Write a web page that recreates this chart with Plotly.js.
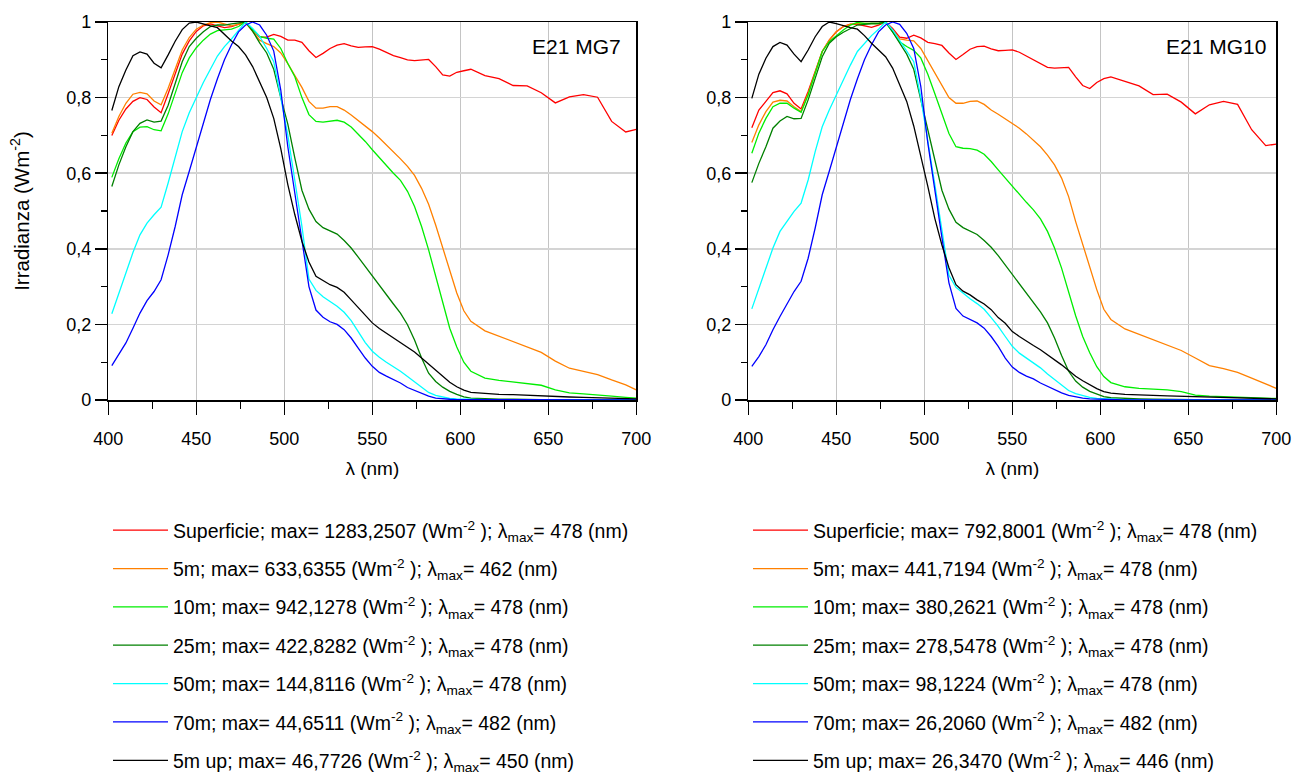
<!DOCTYPE html>
<html><head><meta charset="utf-8">
<script src="https://cdn.plot.ly/plotly-3.0.1.min.js"></script>
<style>html,body{margin:0;padding:0;background:#fff;}#chart{width:1295px;height:775px;}</style>
</head><body><div id="chart"></div>
<script>
// Wavelength (nm)
const wavelength = [402,406,410,414,418,422,426,430,434,438,442,446,450,454,458,462,466,470,474,478,482,486,490,494,498,502,506,510,514,518,522,526,530,534,538,542,546,550,554,558,562,566,570,574,578,582,586,590,594,598,602,606,614,622,630,638,646,654,662,670,678,686,694,700];

// ---- E21 MG7 (normalised irradiance) ----
const mg7_superficie = [0.70,0.74,0.77,0.79,0.80,0.795,0.775,0.76,0.81,0.865,0.915,0.95,0.975,0.99,0.995,0.99,0.985,0.988,0.993,1.0,0.98,0.96,0.96,0.967,0.962,0.952,0.952,0.946,0.924,0.906,0.917,0.930,0.939,0.943,0.937,0.933,0.934,0.935,0.928,0.920,0.911,0.906,0.900,0.898,0.900,0.901,0.882,0.860,0.857,0.867,0.871,0.875,0.858,0.850,0.832,0.831,0.813,0.786,0.802,0.808,0.801,0.737,0.709,0.716];
const mg7_5m = [0.706,0.75,0.785,0.809,0.814,0.81,0.791,0.781,0.825,0.878,0.926,0.959,0.981,0.992,0.998,1.0,0.996,0.99,0.994,0.998,0.975,0.952,0.943,0.935,0.918,0.89,0.858,0.827,0.79,0.772,0.772,0.776,0.776,0.767,0.754,0.740,0.725,0.710,0.693,0.675,0.657,0.638,0.618,0.594,0.560,0.518,0.463,0.402,0.342,0.283,0.236,0.208,0.183,0.169,0.155,0.142,0.126,0.103,0.084,0.076,0.067,0.053,0.040,0.027];
const mg7_10m = [0.589,0.638,0.68,0.71,0.722,0.723,0.715,0.712,0.757,0.81,0.866,0.905,0.932,0.952,0.968,0.977,0.979,0.981,0.988,1.0,0.98,0.962,0.957,0.955,0.93,0.89,0.855,0.80,0.755,0.737,0.735,0.737,0.740,0.735,0.722,0.703,0.684,0.662,0.641,0.620,0.600,0.581,0.552,0.512,0.459,0.397,0.327,0.254,0.19,0.14,0.10,0.076,0.058,0.052,0.048,0.045,0.039,0.027,0.019,0.016,0.014,0.010,0.007,0.005];
const mg7_25m = [0.565,0.622,0.67,0.71,0.732,0.741,0.735,0.738,0.78,0.838,0.895,0.935,0.957,0.974,0.988,0.992,0.992,0.995,0.997,1.0,0.976,0.945,0.918,0.875,0.80,0.73,0.64,0.555,0.505,0.472,0.456,0.448,0.439,0.422,0.402,0.378,0.353,0.327,0.301,0.277,0.254,0.230,0.199,0.159,0.111,0.071,0.049,0.034,0.023,0.015,0.008,0.005,0.003,0.002,0.002,0.001,0.001,0.001,0.001,0,0,0,0,0];
const mg7_50m = [0.228,0.283,0.335,0.39,0.437,0.468,0.49,0.51,0.574,0.645,0.71,0.76,0.80,0.84,0.875,0.91,0.935,0.955,0.978,1.0,0.983,0.962,0.93,0.895,0.80,0.70,0.58,0.46,0.32,0.29,0.273,0.261,0.248,0.232,0.210,0.181,0.152,0.129,0.113,0.100,0.089,0.076,0.062,0.048,0.032,0.020,0.012,0.007,0.004,0.003,0.002,0.001,0.001,0,0,0,0,0,0,0,0,0,0,0];
const mg7_70m = [0.091,0.12,0.151,0.19,0.23,0.263,0.287,0.318,0.384,0.459,0.543,0.605,0.67,0.735,0.795,0.85,0.90,0.94,0.974,0.992,1.0,0.992,0.965,0.923,0.82,0.67,0.55,0.43,0.30,0.238,0.219,0.207,0.2,0.186,0.164,0.137,0.111,0.089,0.073,0.063,0.054,0.045,0.033,0.025,0.016,0.010,0.005,0.003,0.002,0.001,0.001,0,0,0,0,0,0,0,0,0,0,0,0,0];
const mg7_5mup = [0.766,0.829,0.873,0.911,0.921,0.915,0.891,0.879,0.913,0.949,0.98,0.997,1.0,0.994,0.99,0.985,0.967,0.95,0.935,0.913,0.882,0.842,0.80,0.745,0.665,0.57,0.49,0.42,0.365,0.327,0.315,0.305,0.298,0.285,0.265,0.245,0.223,0.204,0.189,0.177,0.164,0.152,0.14,0.127,0.111,0.095,0.078,0.062,0.047,0.035,0.026,0.02,0.017,0.015,0.014,0.012,0.011,0.009,0.008,0.007,0.006,0.005,0.004,0.003];

// ---- E21 MG10 (normalised irradiance) ----
const mg10_superficie = [0.72,0.767,0.79,0.813,0.818,0.81,0.785,0.77,0.816,0.869,0.922,0.952,0.974,0.988,0.994,0.994,0.989,0.986,0.992,1.0,0.983,0.96,0.957,0.965,0.958,0.946,0.943,0.938,0.918,0.901,0.914,0.928,0.935,0.936,0.929,0.924,0.925,0.926,0.920,0.910,0.900,0.889,0.880,0.878,0.879,0.880,0.855,0.832,0.824,0.840,0.85,0.855,0.843,0.831,0.808,0.809,0.788,0.757,0.781,0.790,0.782,0.715,0.673,0.677];
const mg10_5m = [0.681,0.728,0.763,0.788,0.793,0.791,0.776,0.763,0.811,0.869,0.922,0.952,0.974,0.988,0.994,0.996,0.996,0.995,0.996,1.0,0.979,0.955,0.952,0.950,0.93,0.898,0.866,0.835,0.80,0.785,0.785,0.79,0.791,0.782,0.767,0.756,0.744,0.732,0.719,0.704,0.688,0.670,0.648,0.622,0.587,0.538,0.472,0.411,0.349,0.292,0.24,0.213,0.188,0.174,0.16,0.147,0.131,0.111,0.091,0.083,0.073,0.058,0.043,0.031];
const mg10_10m = [0.653,0.706,0.745,0.776,0.785,0.785,0.772,0.761,0.807,0.867,0.922,0.948,0.964,0.979,0.992,0.999,0.996,0.996,0.996,1.0,0.974,0.948,0.935,0.925,0.905,0.862,0.81,0.757,0.705,0.670,0.666,0.665,0.661,0.650,0.631,0.609,0.587,0.567,0.546,0.523,0.503,0.479,0.446,0.402,0.349,0.287,0.223,0.168,0.125,0.088,0.062,0.046,0.035,0.031,0.029,0.027,0.022,0.013,0.010,0.009,0.008,0.006,0.005,0.004];
const mg10_25m = [0.575,0.626,0.670,0.719,0.738,0.75,0.744,0.745,0.794,0.851,0.908,0.944,0.961,0.973,0.983,0.992,0.994,0.996,0.996,1.0,0.974,0.944,0.915,0.875,0.795,0.72,0.635,0.555,0.505,0.47,0.456,0.448,0.438,0.422,0.404,0.382,0.357,0.330,0.305,0.28,0.258,0.233,0.204,0.164,0.118,0.076,0.050,0.034,0.023,0.016,0.009,0.006,0.004,0.003,0.002,0.002,0.001,0.001,0,0,0,0,0,0];
const mg10_50m = [0.241,0.296,0.349,0.402,0.446,0.472,0.499,0.521,0.582,0.657,0.723,0.767,0.807,0.847,0.886,0.922,0.944,0.964,0.981,1.0,0.979,0.952,0.925,0.895,0.80,0.69,0.57,0.45,0.33,0.298,0.282,0.268,0.255,0.240,0.218,0.195,0.168,0.142,0.124,0.111,0.098,0.085,0.069,0.054,0.039,0.025,0.017,0.011,0.007,0.004,0.003,0.002,0.001,0,0,0,0,0,0,0,0,0,0,0];
const mg10_70m = [0.089,0.115,0.146,0.186,0.221,0.256,0.287,0.314,0.375,0.455,0.543,0.605,0.67,0.735,0.795,0.85,0.90,0.94,0.974,0.992,1.0,0.994,0.97,0.93,0.83,0.68,0.55,0.43,0.31,0.242,0.222,0.212,0.204,0.190,0.168,0.142,0.111,0.087,0.073,0.063,0.056,0.045,0.036,0.027,0.019,0.012,0.008,0.005,0.003,0.002,0.001,0,0,0,0,0,0,0,0,0,0,0,0,0];
const mg10_5mup = [0.798,0.862,0.904,0.935,0.946,0.939,0.915,0.895,0.926,0.961,0.988,1.0,0.996,0.99,0.985,0.981,0.964,0.944,0.926,0.908,0.878,0.833,0.79,0.725,0.648,0.565,0.48,0.41,0.35,0.305,0.288,0.278,0.265,0.254,0.239,0.218,0.203,0.181,0.168,0.155,0.144,0.133,0.12,0.108,0.093,0.078,0.063,0.051,0.040,0.030,0.022,0.018,0.015,0.013,0.012,0.011,0.010,0.009,0.008,0.007,0.006,0.005,0.004,0.003];

// Legend text pieces
const depthLabels = ['Superficie','5m','10m','25m','50m','70m','5m up'];
const mg7_maxIrr = ['1283,2507','633,6355','942,1278','422,8282','144,8116','44,6511','46,7726'];
const mg7_lambdaMax = [478,462,478,478,478,482,450];
const mg10_maxIrr = ['792,8001','441,7194','380,2621','278,5478','98,1224','26,2060','26,3470'];
const mg10_lambdaMax = [478,478,478,478,478,482,446];
const panelTitles = ['E21 MG7','E21 MG10'];

const colors = ['#ff0000','#ff8000','#00ee00','#008000','#00ffff','#0000ff','#000000'];
const FONT = 'Liberation Sans, Arial, Helvetica, sans-serif';

const mg7 = [mg7_superficie,mg7_5m,mg7_10m,mg7_25m,mg7_50m,mg7_70m,mg7_5mup];
const mg10 = [mg10_superficie,mg10_5m,mg10_10m,mg10_25m,mg10_50m,mg10_70m,mg10_5mup];

function label(i, maxArr, lamArr){
  return depthLabels[i] + '; max= ' + maxArr[i] + ' (Wm<sup>-2</sup> ); λ<sub>max</sub>= ' + lamArr[i] + ' (nm)';
}

const traces = [];
mg7.forEach((ys,i)=>traces.push({x:wavelength,y:ys,type:'scatter',mode:'lines',
  line:{color:colors[i],width:1.3},name:label(i,mg7_maxIrr,mg7_lambdaMax),
  xaxis:'x',yaxis:'y',legend:'legend',legendgroup:'a'+i}));
mg10.forEach((ys,i)=>traces.push({x:wavelength,y:ys,type:'scatter',mode:'lines',
  line:{color:colors[i],width:1.3},name:label(i,mg10_maxIrr,mg10_lambdaMax),
  xaxis:'x2',yaxis:'y2',legend:'legend2',legendgroup:'b'+i}));

function xAxis(anchor, domain){
  return {domain:domain, anchor:anchor, range:[400,700], tick0:400, dtick:50,
    ticks:'outside', ticklen:13, tickwidth:1.5, tickcolor:'#000', ticklabelstandoff:9,
    showline:true, linecolor:'#000', linewidth:1.5, mirror:true,
    showgrid:true, gridcolor:'#c4c4c4', gridwidth:1, zeroline:false,
    minor:{tick0:400, dtick:25, ticks:'outside', ticklen:7, tickwidth:1.2, tickcolor:'#000', showgrid:false},
    tickfont:{family:FONT,size:18,color:'#000'},
    title:{text:'λ (nm)', font:{family:FONT,size:19,color:'#000'}, standoff:13}};
}
function yAxis(anchor, withTitle){
  const ax = {domain:[1-400/775, 1-22/775], anchor:anchor, range:[0,1], tick0:0, dtick:0.2,
    ticks:'outside', ticklen:12, tickwidth:1.5, tickcolor:'#000',
    showline:true, linecolor:'#000', linewidth:1.5, mirror:true,
    showgrid:true, gridcolor:'#d4d4d4', gridwidth:1.5, zeroline:false,
    minor:{tick0:0, dtick:0.1, ticks:'outside', ticklen:6, tickwidth:1.2, tickcolor:'#000', showgrid:false},
    tickfont:{family:FONT,size:18,color:'#000'}};
  if (withTitle) ax.title = {text:'Irradianza (Wm<sup>-2</sup>)', font:{family:FONT,size:20.5,color:'#000'}, standoff:31};
  return ax;
}
function legendCfg(x){
  return {x:x, y:1-511/775, xanchor:'left', yanchor:'top', orientation:'v',
    font:{family:FONT,size:19.5,color:'#000'}, bgcolor:'rgba(0,0,0,0)', borderwidth:0,
    itemwidth:55, tracegroupgap:10, itemclick:false, itemdoubleclick:false};
}

const layout = {
  width:1295, height:775, margin:{l:0,r:0,t:0,b:0,autoexpand:false},
  paper_bgcolor:'#fff', plot_bgcolor:'#fff', separators:',.',
  font:{family:FONT,color:'#000'},
  xaxis: xAxis('y',[108.3/1295, 636.3/1295]),
  yaxis: yAxis('x', true),
  xaxis2: xAxis('y2',[748.3/1295, 1276.3/1295]),
  yaxis2: yAxis('x2', false),
  showlegend:true,
  legend: legendCfg(108/1295),
  legend2: legendCfg(748/1295),
  annotations: [
    {xref:'x domain', yref:'y domain', x:0.975, y:0.935, xanchor:'right', yanchor:'middle', showarrow:false,
     text:panelTitles[0], font:{family:FONT,size:21,color:'#000'}},
    {xref:'x2 domain', yref:'y2 domain', x:0.984, y:0.935, xanchor:'right', yanchor:'middle', showarrow:false,
     text:panelTitles[1], font:{family:FONT,size:21,color:'#000'}}
  ]
};
Plotly.newPlot('chart', traces, layout, {displayModeBar:false, staticPlot:true});
</script></body></html>
